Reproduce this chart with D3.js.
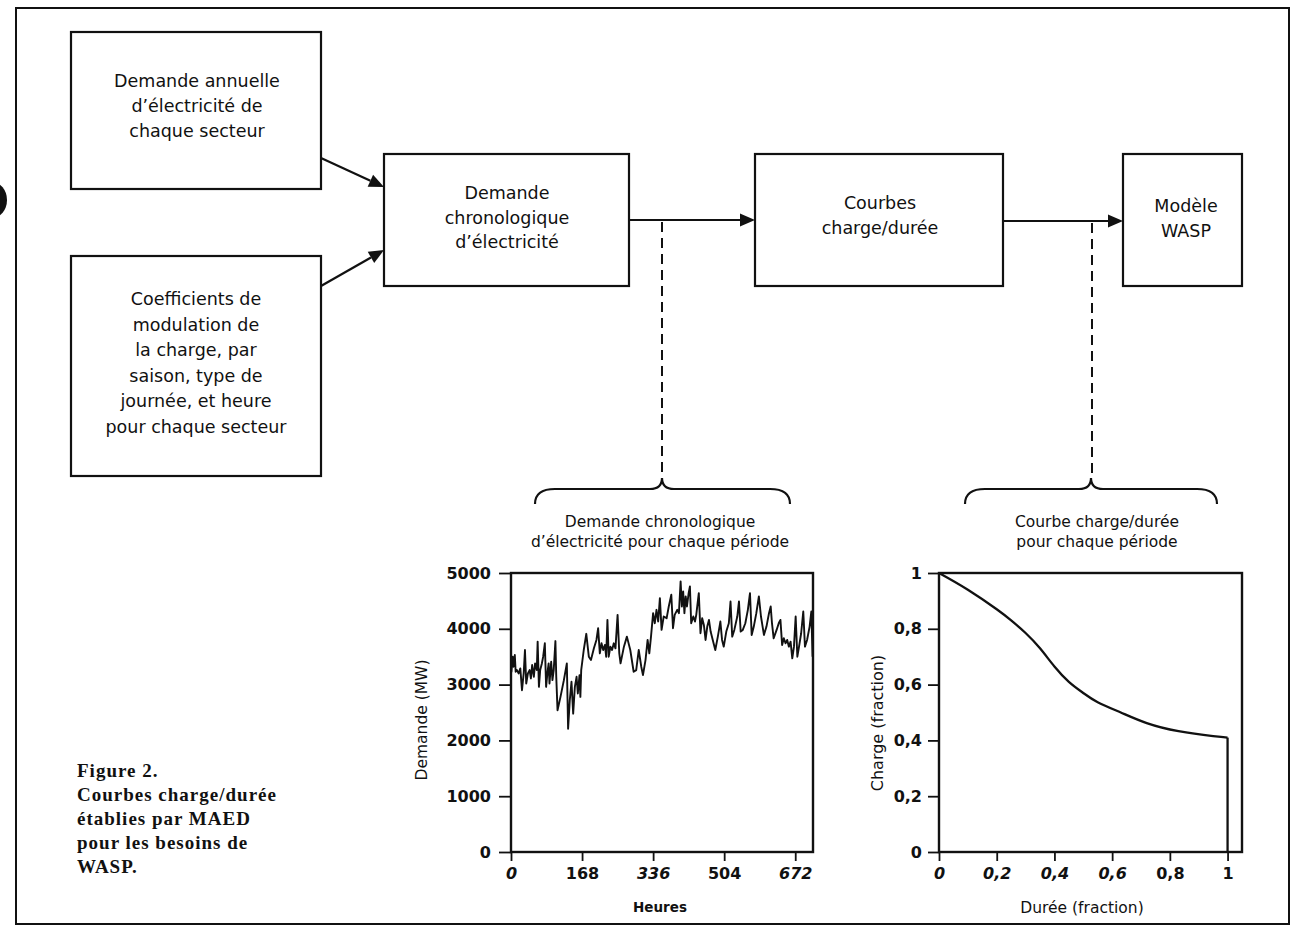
<!DOCTYPE html>
<html><head><meta charset="utf-8">
<script src="https://cdn.jsdelivr.net/npm/d3@7"></script>
<style>body{margin:0;background:#fff}svg{display:block}</style>
</head><body>
<svg id="c" width="1297" height="931"></svg>
<script>
// ---------- DATA ----------
const hours = [0,1,4,6,9,11,14,18,22,26,30,33,36,40,44,47,50,54,57,61,63,66,69,73,76,80,83,86,89,91,95,98,101,105,107,110,
  117,125,132,135,139,143,147,151,155,158,162,164,
  166,172,178,184,189,196,202,206,210,214,218,222,225,228,231,235,239,243,247,252,256,259,
  267,274,282,290,296,302,308,312,318,323,327,331,
  336,340,344,348,352,356,361,368,373,379,383,387,393,397,401,404,407,410,413,416,420,423,426,431,435,438,444,448,
  452,456,460,464,468,472,477,483,489,495,499,503,509,515,519,523,528,535,539,543,548,554,560,565,569,574,580,586,591,598,
  604,610,614,617,621,628,633,637,641,645,649,653,657,661,665,669,673,677,681,686,691,695,700,706,710,713];
const demand = [3380,3230,3500,3320,3530,3230,3260,3200,3290,2900,3200,3620,3020,3200,3260,3110,3350,3140,3380,3260,3770,2960,3260,3380,3500,3740,2960,3200,3380,3020,3410,3080,3260,3780,3140,2540,
  2780,3080,3380,2210,2720,3050,2480,2960,3140,2840,3170,2780,
  3260,3620,3910,3500,3440,3650,3800,4010,3560,3740,3620,3710,3500,4160,3500,3680,3620,3740,3650,4250,3560,3380,
  3680,3860,3620,3230,3260,3620,3320,3170,3440,3800,3560,3860,
  4280,4100,4340,4130,4550,3980,4220,4190,4400,4610,4010,4250,4340,4280,4850,4400,4670,4280,4580,4400,4640,4760,4100,4220,4130,4250,4640,3920,
  4190,4070,3800,4040,4160,3950,3800,3620,3860,4130,3800,3680,3950,4100,4490,3860,3980,4220,4490,3950,3980,4100,4340,4640,3890,4040,4280,4580,4220,3890,
  4040,4280,4400,4100,3830,3980,4100,4160,3710,3830,3740,3800,3680,3770,3470,3680,4220,3500,3680,3920,4310,3680,3800,4040,4310,3500];
const hourTicks = [0,168,336,504,672];
const demandTicks = [0,1000,2000,3000,4000,5000];

const duree  = [0, 0.1, 0.2, 0.25, 0.3, 0.35, 0.4, 0.45, 0.5, 0.55, 0.63, 0.72, 0.83, 0.95, 1.0, 1.0];
const charge = [1, 0.94, 0.87, 0.83, 0.785, 0.73, 0.665, 0.61, 0.57, 0.537, 0.5, 0.462, 0.433, 0.415, 0.41, 0];
const dureeTicks = [0, 0.2, 0.4, 0.6, 0.8, 1];
const chargeTicks = [0, 0.2, 0.4, 0.6, 0.8, 1];

const boxTexts = [
  ["Demande annuelle", "d\u2019électricité de", "chaque secteur"],
  ["Coefficients de", "modulation de", "la charge, par", "saison, type de", "journée, et heure", "pour chaque secteur"],
  ["Demande", "chronologique", "d\u2019électricité"],
  ["Courbes", "charge/durée"],
  ["Modèle", "WASP"]
];
const braceTexts = [
  ["Demande chronologique", "d\u2019électricité pour chaque période"],
  ["Courbe charge/durée", "pour chaque période"]
];
const caption = ["Figure 2.", "Courbes charge/durée", "établies par MAED", "pour les besoins de", "WASP."];

// ---------- DRAW ----------
const ink = "#111";
const svg = d3.select("#c");
svg.append("rect").attr("width",1297).attr("height",931).attr("fill","#fff");

// outer frame
svg.append("rect").attr("x",16).attr("y",8).attr("width",1273).attr("height",916)
  .attr("fill","none").attr("stroke",ink).attr("stroke-width",2);
// punch-hole blob at left edge
svg.append("ellipse").attr("cx",-8).attr("cy",200).attr("rx",15).attr("ry",18).attr("fill",ink);

// boxes
const boxes = [
  {x:71, y:32, w:250, h:157, lines:boxTexts[0], b0:87, ls:25, cx:197},
  {x:71, y:256, w:250, h:220, lines:boxTexts[1], b0:305, ls:25.5, cx:196},
  {x:384, y:154, w:245, h:132, lines:boxTexts[2], b0:199, ls:24.5, cx:507},
  {x:755, y:154, w:248, h:132, lines:boxTexts[3], b0:209, ls:25, cx:880},
  {x:1123, y:154, w:119, h:132, lines:boxTexts[4], b0:212, ls:25, cx:1186}
];
boxes.forEach(b => {
  svg.append("rect").attr("x",b.x).attr("y",b.y).attr("width",b.w).attr("height",b.h)
    .attr("fill","none").attr("stroke",ink).attr("stroke-width",2.2);
  b.lines.forEach((t,i) => {
    svg.append("text").attr("x",b.cx).attr("y",b.b0 + i*b.ls)
      .attr("text-anchor","middle").attr("font-family","DejaVu Sans").attr("font-size",17.5)
      .attr("fill",ink).text(t);
  });
});

// arrows
function arrow(x1,y1,x2,y2){
  const L = 15, W = 6.5;
  const a = Math.atan2(y2-y1, x2-x1);
  const bx = x2 - L*Math.cos(a), by = y2 - L*Math.sin(a);
  svg.append("line").attr("x1",x1).attr("y1",y1).attr("x2",bx).attr("y2",by)
    .attr("stroke",ink).attr("stroke-width",2.2);
  const p = [[x2,y2],[bx - W*Math.sin(a), by + W*Math.cos(a)],[bx + W*Math.sin(a), by - W*Math.cos(a)]];
  svg.append("path").attr("d","M"+p.map(q=>q.join(",")).join("L")+"Z").attr("fill",ink);
}
arrow(321,158,384,187);
arrow(321,286,384,250);
arrow(629,220,755,220);
arrow(1003,221,1123,221);

// dashed connectors
[[662,222,478],[1092,223,478]].forEach(([x,y1,y2]) => {
  svg.append("line").attr("x1",x).attr("x2",x).attr("y1",y1).attr("y2",y2)
    .attr("stroke",ink).attr("stroke-width",2).attr("stroke-dasharray","10,6");
});

// braces
function brace(x0, x1, tip, yTip, yFlat, yEnd){
  const d = `M${x0},${yEnd} Q${x0},${yFlat} ${x0+20},${yFlat} L${tip-12},${yFlat} Q${tip},${yFlat} ${tip},${yTip}`
    + ` Q${tip},${yFlat} ${tip+12},${yFlat} L${x1-20},${yFlat} Q${x1},${yFlat} ${x1},${yEnd}`;
  svg.append("path").attr("d",d).attr("fill","none").attr("stroke",ink).attr("stroke-width",2.2);
}
brace(535, 790, 662, 478, 489, 504);
brace(965, 1217, 1091, 478, 489, 504);
[[660, braceTexts[0]], [1097, braceTexts[1]]].forEach(([cx, lines]) => {
  lines.forEach((t,i) => svg.append("text").attr("x",cx).attr("y",527 + i*20)
    .attr("text-anchor","middle").attr("font-family","DejaVu Sans").attr("font-size",15.5)
    .attr("fill",ink).text(t));
});

// caption
caption.forEach((t,i) => svg.append("text").attr("x",77).attr("y",777 + i*24)
  .attr("font-family","Liberation Serif").attr("font-weight","bold").attr("font-size",19)
  .attr("letter-spacing",1).attr("fill",ink).text(t));

const fmt = d => String(d).replace(".", ",");

function styleAxis(g, italicSet){
  g.select(".domain").remove();
  g.selectAll(".tick line").attr("stroke",ink).attr("stroke-width",1.8);
  g.selectAll(".tick text").attr("fill",ink).attr("font-family","DejaVu Sans")
    .attr("font-weight","bold").attr("font-size",16);
  if (italicSet) g.selectAll(".tick text").attr("font-style", d => italicSet.includes(d) ? "italic" : "normal");
}

// ---- chart 1: Demand ----
const x1 = d3.scaleLinear().domain([0,714]).range([511,813]);
const y1 = d3.scaleLinear().domain([0,5000]).range([852,573]);
const c1 = svg.append("g");
c1.append("g").attr("transform","translate(0,852)")
  .call(d3.axisBottom(x1).tickValues(hourTicks).tickSize(9).tickPadding(7).tickSizeOuter(0).tickFormat(d3.format("d")))
  .call(g => styleAxis(g, [0,336,672]));
c1.append("g").attr("transform","translate(511,0)")
  .call(d3.axisLeft(y1).tickValues(demandTicks).tickSize(12).tickPadding(8).tickSizeOuter(0).tickFormat(d3.format("d")))
  .call(g => styleAxis(g));
c1.append("path").datum(hours.map((h,i)=>[h,demand[i]]))
  .attr("d", d3.line().x(d=>x1(d[0])).y(d=>y1(d[1])))
  .attr("fill","none").attr("stroke",ink).attr("stroke-width",1.9).attr("stroke-linejoin","round");
c1.append("rect").attr("x",x1(0)).attr("y",y1(5000)).attr("width",x1(714)-x1(0)).attr("height",y1(0)-y1(5000))
  .attr("fill","none").attr("stroke",ink).attr("stroke-width",2.4);
c1.append("text").attr("x",660).attr("y",912).attr("text-anchor","middle")
  .attr("font-family","DejaVu Sans").attr("font-weight","bold").attr("font-size",13.5).attr("fill",ink).text("Heures");
c1.append("text").attr("transform","translate(422,720) rotate(-90)").attr("text-anchor","middle")
  .attr("dominant-baseline","central").attr("font-family","DejaVu Sans").attr("font-size",15.5).attr("fill",ink)
  .text("Demande (MW)");

// ---- chart 2: Load duration ----
const x2 = d3.scaleLinear().domain([0,1.05]).range([939,1242]);
const y2 = d3.scaleLinear().domain([0,1]).range([852,573]);
const c2 = svg.append("g");
c2.append("g").attr("transform","translate(0,852)")
  .call(d3.axisBottom(x2).tickValues(dureeTicks).tickSize(9).tickPadding(7).tickSizeOuter(0).tickFormat(fmt))
  .call(g => styleAxis(g, [0,0.2,0.4,0.6]));
c2.append("g").attr("transform","translate(939,0)")
  .call(d3.axisLeft(y2).tickValues(chargeTicks).tickSize(11).tickPadding(6).tickSizeOuter(0).tickFormat(fmt))
  .call(g => styleAxis(g));
const pts = duree.map((d,i)=>[d,charge[i]]);
const smooth = pts.slice(0, pts.length-1);
const drop = pts.slice(pts.length-2);
c2.append("path").datum(smooth)
  .attr("d", d3.line().x(d=>x2(d[0])).y(d=>y2(d[1])).curve(d3.curveNatural))
  .attr("fill","none").attr("stroke",ink).attr("stroke-width",2.3);
c2.append("path").datum(drop)
  .attr("d", d3.line().x(d=>x2(d[0])).y(d=>y2(d[1])))
  .attr("fill","none").attr("stroke",ink).attr("stroke-width",2.3);
c2.append("rect").attr("x",x2(0)).attr("y",y2(1)).attr("width",x2(1.05)-x2(0)).attr("height",y2(0)-y2(1))
  .attr("fill","none").attr("stroke",ink).attr("stroke-width",2.4);
c2.append("text").attr("x",1082).attr("y",913).attr("text-anchor","middle")
  .attr("font-family","DejaVu Sans").attr("font-size",15.5).attr("fill",ink).text("Durée (fraction)");
c2.append("text").attr("transform","translate(877,723) rotate(-90)").attr("text-anchor","middle")
  .attr("dominant-baseline","central").attr("font-family","DejaVu Sans").attr("font-size",16).attr("fill",ink)
  .text("Charge (fraction)");
</script>
</body></html>
